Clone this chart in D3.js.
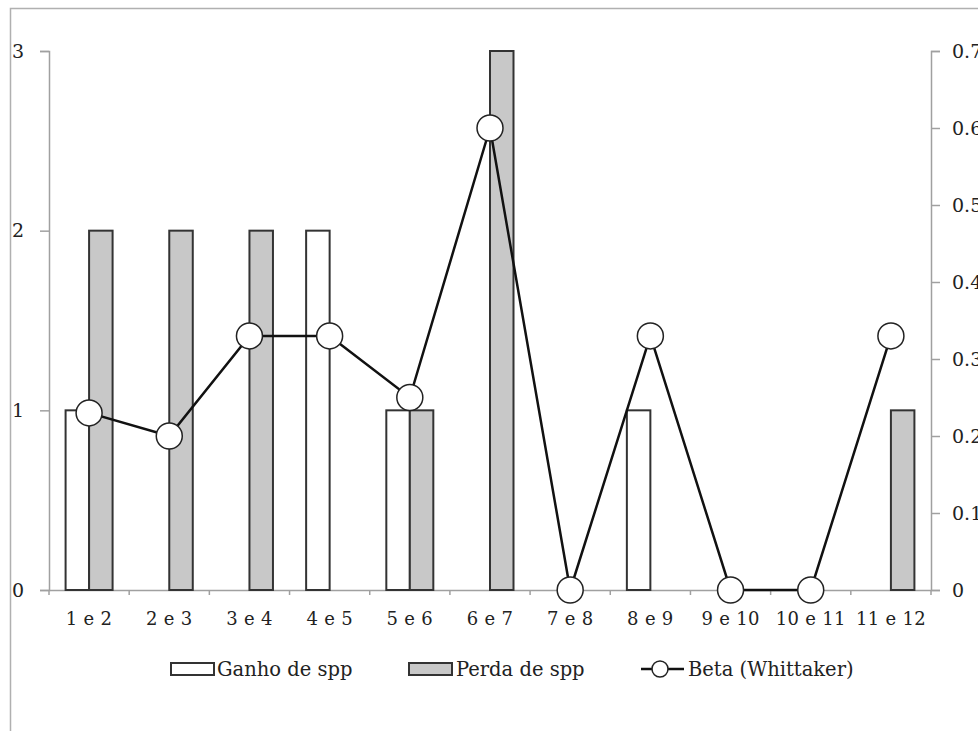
<!DOCTYPE html>
<meta charset="utf-8">
<style>
  body { margin: 0; background: #fff; }
  text { font-family: "DejaVu Serif", serif; fill: #222; }
</style>
<body>
  <script src="https://d3js.org/d3.v7.min.js"></script>
  <script>

   // chart values
   const categories = ["1 e 2", "2 e 3", "3 e 4", "4 e 5", "5 e 6", "6 e 7", "7 e 8", "8 e 9", "9 e 10", "10 e 11", "11 e 12"];
   const ganho = [1, 0, 0, 2, 1, 0, 0, 1, 0, 0, 0];
   const perda = [2, 2, 2, 0, 1, 3, 0, 0, 0, 0, 1];
   const beta = [0.23, 0.2, 0.33, 0.33, 0.25, 0.6, 0, 0.33, 0, 0, 0.33];
   const leftTicks = [0, 1, 2, 3];
   const rightTicks = [0, 0.1, 0.2, 0.3, 0.4, 0.5, 0.6, 0.7];
   const seriesNames = ["Ganho de spp", "Perda de spp", "Beta (Whittaker)"];

   const W = 978, H = 731;
   const plot = {left: 49, right: 931, top: 51, bottom: 590};

   var svg = d3.select("body").append("svg")
	       .attr("width", W)
	       .attr("height", H);

   // outer frame (runs past the picture edges)
   svg.append("rect")
      .attr("x", 10.5).attr("y", 8.5)
      .attr("width", 1000).attr("height", 800)
      .attr("fill", "none")
      .attr("stroke", "#b0b0b0")
      .attr("stroke-width", 1.5);

   const x = d3.scaleBand()
	       .domain(categories)
	       .range([plot.left, plot.right]);
   const xInner = d3.scaleBand()
	       .domain(["g", "p"])
	       .range([-23.5, 23.5]);
   const yLeft = d3.scaleLinear().domain([0, 3]).range([plot.bottom, plot.top]);
   const yRight = d3.scaleLinear().domain([0, 0.7]).range([plot.bottom, plot.top]);

   // axes
   const axisColor = "#a0a0a0";
   const gl = svg.append("g")
      .attr("transform", "translate(" + plot.left + ",0)")
      .call(d3.axisLeft(yLeft).tickValues(leftTicks).tickFormat(d3.format("d")).tickSize(9).tickPadding(16));
   const gr = svg.append("g")
      .attr("transform", "translate(" + plot.right + ",0)")
      .call(d3.axisRight(yRight).tickValues(rightTicks).tickFormat(d => d === 0 ? "0" : d3.format(".1f")(d)).tickSize(9).tickPadding(12));
   const gb = svg.append("g")
      .attr("transform", "translate(0," + plot.bottom + ")")
      .call(d3.axisBottom(x).tickSize(0).tickPadding(22));

   // bottom ticks between categories
   const bounds = categories.map(c => x(c)).concat([plot.right]);
   svg.append("g").selectAll("line")
      .data(bounds)
      .join("line")
      .attr("x1", d => d).attr("x2", d => d)
      .attr("y1", plot.bottom).attr("y2", plot.bottom + 5)
      .attr("stroke", axisColor).attr("stroke-width", 1.5);

   [gl, gr, gb].forEach(g => {
     g.selectAll("path.domain").attr("stroke", axisColor).attr("stroke-width", 1.5);
     g.selectAll(".tick line").attr("stroke", axisColor).attr("stroke-width", 1.5);
     g.selectAll("text").attr("font-size", 19).attr("fill", "#222")
      .attr("font-family", "DejaVu Serif, serif");
   });
   gb.selectAll("text").attr("font-size", 18).attr("letter-spacing", 0.3);
   gr.selectAll("text").attr("text-anchor", "start");

   // bars
   const barStroke = "#333";
   const bars = svg.append("g");
   bars.selectAll("rect.g")
      .data(categories.map((c, i) => ({c: c, v: ganho[i]})).filter(d => d.v > 0))
      .join("rect")
      .attr("x", d => x(d.c) + x.bandwidth() / 2 + xInner("g"))
      .attr("y", d => yLeft(d.v))
      .attr("width", xInner.bandwidth())
      .attr("height", d => yLeft(0) - yLeft(d.v))
      .attr("fill", "#fff")
      .attr("stroke", barStroke).attr("stroke-width", 2);
   bars.selectAll("rect.p")
      .data(categories.map((c, i) => ({c: c, v: perda[i]})).filter(d => d.v > 0))
      .join("rect")
      .attr("x", d => x(d.c) + x.bandwidth() / 2 + xInner("p"))
      .attr("y", d => yLeft(d.v))
      .attr("width", xInner.bandwidth())
      .attr("height", d => yLeft(0) - yLeft(d.v))
      .attr("fill", "#c8c8c8")
      .attr("stroke", barStroke).attr("stroke-width", 2);

   // beta line
   const pts = categories.map((c, i) => [x(c) + x.bandwidth() / 2, yRight(beta[i])]);
   svg.append("path")
      .attr("d", d3.line()(pts))
      .attr("fill", "none")
      .attr("stroke", "#111")
      .attr("stroke-width", 2.5);
   svg.append("g").selectAll("circle")
      .data(pts)
      .join("circle")
      .attr("cx", d => d[0]).attr("cy", d => d[1])
      .attr("r", 13)
      .attr("fill", "#fff")
      .attr("stroke", "#222").attr("stroke-width", 1.5);

   // legend
   const ly = 669;
   const leg = svg.append("g");
   leg.append("rect").attr("x", 171).attr("y", ly - 6).attr("width", 43).attr("height", 12)
      .attr("fill", "#fff").attr("stroke", barStroke).attr("stroke-width", 2);
   leg.append("text").attr("x", 217).attr("y", ly).attr("dy", "0.35em")
      .attr("font-size", 19.5).text(seriesNames[0]);
   leg.append("rect").attr("x", 409).attr("y", ly - 6).attr("width", 43).attr("height", 12)
      .attr("fill", "#c8c8c8").attr("stroke", barStroke).attr("stroke-width", 2);
   leg.append("text").attr("x", 456).attr("y", ly).attr("dy", "0.35em")
      .attr("font-size", 19.5).text(seriesNames[1]);
   leg.append("line").attr("x1", 641).attr("x2", 684).attr("y1", ly).attr("y2", ly)
      .attr("stroke", "#111").attr("stroke-width", 2.5);
   leg.append("circle").attr("cx", 660).attr("cy", ly).attr("r", 8)
      .attr("fill", "#fff").attr("stroke", "#222").attr("stroke-width", 1.5);
   leg.append("text").attr("x", 688).attr("y", ly).attr("dy", "0.35em")
      .attr("font-size", 19.5).text(seriesNames[2]);

  </script>
</body>
